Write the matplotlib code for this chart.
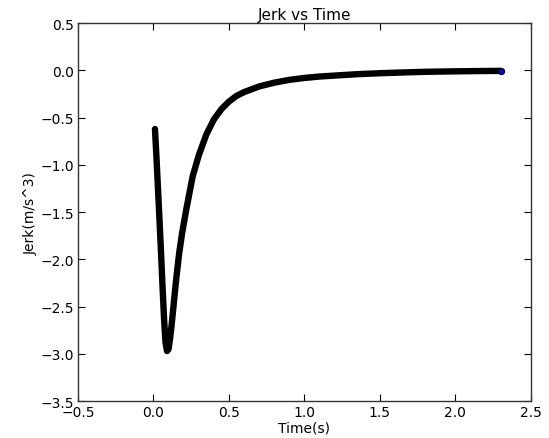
import matplotlib
matplotlib.use('Agg')
import matplotlib.pyplot as plt
import numpy as np

# values
time_s = [0.01, 0.02, 0.03, 0.04, 0.05, 0.06, 0.07, 0.08, 0.09, 0.10,
          0.11, 0.12, 0.13, 0.14, 0.15, 0.17, 0.19, 0.22, 0.26, 0.30,
          0.35, 0.40, 0.45, 0.50, 0.55, 0.60, 0.70, 0.80, 0.90, 1.00,
          1.10, 1.20, 1.35, 1.50, 1.65, 1.80, 2.00, 2.15, 2.30]
jerk = [-0.62, -0.92, -1.25, -1.58, -1.92, -2.28, -2.62, -2.88, -2.97, -2.95,
        -2.84, -2.70, -2.54, -2.38, -2.22, -1.94, -1.72, -1.45, -1.12, -0.90,
        -0.68, -0.52, -0.41, -0.33, -0.27, -0.23, -0.17, -0.13, -0.10, -0.08,
        -0.065, -0.055, -0.04, -0.03, -0.022, -0.015, -0.01, -0.007, -0.005]

fig = plt.figure(figsize=(5.49, 4.39), dpi=100)
ax = fig.add_axes([0.142, 0.084, 0.825, 0.861])

ax.plot(time_s, jerk, color='black', linewidth=4.6,
        solid_capstyle='round', solid_joinstyle='round')
ax.scatter(time_s[-1:], jerk[-1:], s=20, c='b', edgecolors='black',
           linewidths=0.8, zorder=3)

ax.set_xlim(-0.5, 2.5)
ax.set_ylim(-3.5, 0.5)
ax.set_xticks(np.arange(-0.5, 2.51, 0.5))
ax.set_yticks(np.arange(-3.5, 0.51, 0.5))
ax.tick_params(direction='in', top=True, right=True, length=5,
               labelsize=10, pad=3)
for sp in ax.spines.values():
    sp.set_linewidth(1.0)
    sp.set_color('#333333')

ax.set_title('Jerk vs Time', fontsize=11, pad=3)
ax.set_xlabel('Time(s)', fontsize=10, labelpad=1)
ax.set_ylabel('Jerk(m/s^3)', fontsize=10, labelpad=2)

fig.savefig('out.png', dpi=100, facecolor='white')
